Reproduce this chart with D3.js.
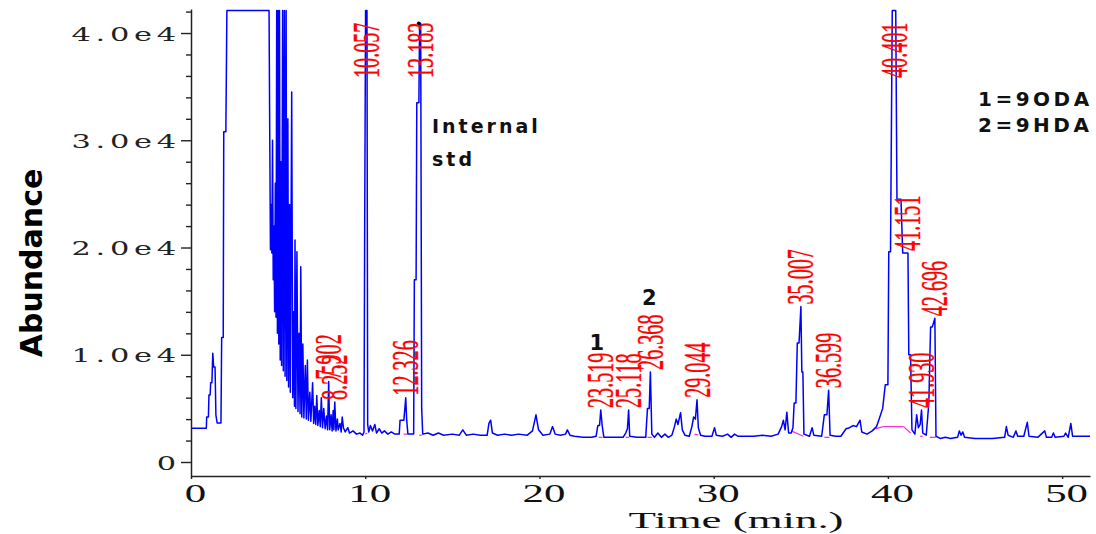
<!DOCTYPE html>
<html><head><meta charset="utf-8">
<script src="https://cdn.jsdelivr.net/npm/d3@7"></script>
<style>
html,body{margin:0;padding:0;background:#fff;}
svg{display:block;}
</style></head>
<body>
<svg id="chart" width="1096" height="534"></svg>
<script>
// Total ion chromatogram: abundance against retention time (min)

// Detector trace between the labelled apexes: [time, abundance]
const tracePoints = [
  [0,3150],[0.88,3150],[0.9,4200],[1.0,4200],[1.03,6250],[1.1,6250],[1.13,7400],[1.2,7400],[1.25,10150],[1.3,8850],[1.38,8850],[1.43,4380],[1.5,3640],[1.72,3640],[1.76,11600],[1.85,11600],[1.88,30800],[2.0,30800],[2.06,42100],[4.48,42100],[4.52,30500],[4.56,19800],[4.60,24000],[4.64,19500],[4.68,30000],[4.72,17000],[4.76,22000],[4.80,14000],[4.84,26000],[4.88,13500],[4.92,42100],[4.96,12000],[5.00,42100],[5.04,11000],[5.08,42100],[5.12,9500],[5.16,28000],[5.20,9000],[5.26,42100],[5.30,8500],[5.36,42100],[5.40,8000],[5.46,42100],[5.50,7600],[5.56,32000],[5.60,7000],[5.66,24000],[5.70,6500],[5.78,34500],[5.84,6000],[5.90,14000],[5.94,5200],[5.97,20700],[6.02,5000],[6.08,19600],[6.14,4700],[6.20,12000],[6.26,4500],[6.30,18200],[6.36,4200],[6.42,11000],[6.48,4100],[6.56,9000],[6.62,4000],[6.68,9500],[6.74,3900],[6.82,6500],[6.88,3800],[6.98,7400],[7.04,3600],[7.10,5200],[7.16,3500],[7.22,6200],[7.28,3400],[7.36,4800],[7.42,3300],[7.48,6000],[7.55,3200],[7.62,5000],[7.70,3100],[7.78,4300],[7.84,3000],[7.96,3000],[8.04,4400],[8.10,2900],[8.16,4800],[8.20,3000],[8.32,2900],[8.40,4000],[8.45,3000],[8.55,3600],[8.62,2800],[8.68,4200],[8.75,3200],[8.85,2800],[9.0,3200],[9.1,2700],[9.3,2900],[9.5,2600],[9.7,2700],[9.85,2500],[9.93,2800],[9.97,22300],[10.02,42100],[10.10,42100],[10.14,3500],[10.20,2800],[10.30,3400],[10.42,2900],[10.55,3500],[10.65,2700],[10.8,3100],[10.95,2700],[11.1,2900],[11.3,2600],[11.5,2800],[11.7,2600],[11.95,2600],[12.0,3900],[12.22,3900],[12.38,3900],[12.45,2600],[12.78,2600],[12.82,17000],[12.92,17000],[12.96,33500],[13.08,33500],[13.12,40900],[13.24,5000],[13.30,2600],
  [13.6,2700],[13.9,2500],[14.2,2700],[14.5,2500],[15.0,2600],[15.4,2500],[15.6,3000],[15.8,2500],[16.2,2600],[16.6,2500],[17.0,2500],[17.1,3600],[17.2,3900],[17.3,2700],[17.6,2500],[18.0,2600],[18.4,2500],[18.8,2600],[19.3,2500],[19.6,2900],[19.8,4400],[19.95,3000],[20.2,2500],[20.6,2600],[20.75,3300],[20.9,2600],[21.2,2500],[21.5,2600],[21.6,3000],[21.75,2500],[22.0,2400],[22.5,2300],[23.0,2300],[23.25,2400],[23.35,3400],[23.45,3400],[23.6,3400],[23.7,2300],[24.2,2300],[24.8,2300],[24.95,2700],[25.05,3100],[25.18,2400],[25.6,2300],[26.1,2300],[26.2,5000],[26.3,5000],[26.45,2600],[26.6,2300],[26.8,2700],[27.0,2300],[27.2,2600],[27.4,2300],[27.6,2500],[27.75,3300],[27.85,4000],[27.95,3500],[28.1,4600],[28.2,3000],[28.35,2500],[28.6,2400],[28.75,3300],[28.85,4200],[28.95,4000],[29.12,3200],[29.25,2500],[29.5,2400],[29.9,2400],[30.05,3200],[30.15,2500],[30.5,2400],[30.8,2600],[31.0,2300],[31.2,2600],[31.4,2400],[31.8,2400],[32.3,2400],[32.8,2500],[33.3,2400],[33.7,2600],[33.9,3300],[34.0,3900],[34.1,3000],[34.2,4650],[34.3,2700],[34.45,2700],[34.55,3200],[34.62,5500],[34.72,5500],[34.8,11100],[34.9,11100],[35.06,8400],[35.12,8400],[35.18,2600],[35.5,2400],[35.65,3200],[35.75,2500],[36.2,2400],[36.35,4400],[36.5,4400],[36.68,2500],[37.0,2400],[37.3,2400],[37.6,3100],[37.8,3200],[38.0,3400],[38.2,3300],[38.4,3900],[38.5,2800],[38.8,2600],[39.1,2900],[39.35,3300],[39.5,4000],[39.7,5000],[39.85,7200],[40.0,7200],[40.05,19600],[40.15,19600],[40.25,42100],[40.45,42100],[40.52,24500],[40.75,24500],[40.85,19500],[41.2,10000],[41.3,10000],[41.38,3000],[41.55,2600],[41.65,4400],[41.75,3200],[41.85,3500],[42.0,2700],[42.2,2500],[42.35,5500],[42.45,12600],[42.55,12600],[42.76,2400],[43.0,2200],[43.3,2300],[43.6,2200],[44.0,2300],[44.1,2900],[44.2,2500],[44.3,2800],[44.4,2300],[45.0,2200],[46.0,2200],[46.7,2300],[46.8,3300],[46.9,2500],[47.2,2300],[47.35,2900],[47.45,2400],[47.8,2400],[48.0,3700],[48.1,2400],[48.6,2300],[49.0,2900],[49.1,2300],[49.4,2300],[49.5,2700],[49.6,2300],[50.1,2400],[50.2,2700],[50.35,2300],[50.5,3600],[50.6,2400],[51.0,2400],[51.6,2400]
];

// Integrated peaks: retention time labels and apex abundance
const peakLabels  = ["7.902","8.252","10.057","12.326","13.183","23.519","25.118","26.368","29.044","35.007","36.599","40.401","41.151","41.930","42.696"];
const peakTimes   = [7.902, 8.252, 10.057, 12.326, 13.183, 23.519, 25.118, 26.368, 29.044, 35.007, 36.599, 40.401, 41.151, 41.930, 42.696];
const peakHeights = [7500, 5600, 42100, 6000, 40900, 4850, 4850, 8400, 5800, 14500, 6700, 42100, 19500, 4850, 13400];

// Integration baselines drawn under the peaks: [t0, v0, t1, v1]
const integrationLines = [
  [10.00,2600,10.12,2700],[12.20,2600,12.40,2600],[13.10,2500,13.25,2500],
  [23.40,2300,23.62,2300],[24.95,2300,25.15,2300],[26.20,2300,26.45,2300],
  [28.90,2600,29.12,2500],[34.45,2900,35.15,2400],[36.35,2300,36.65,2300],
  [39.30,3100,39.70,3300],[39.70,3300,40.90,3300],[40.90,3300,41.30,2700],
  [41.85,2400,42.00,2400],[42.40,2300,42.75,2300]
];

const yMajorTicks = [0, 10000, 20000, 30000, 40000];
const yTickLabels = ["0", "1.0e4", "2.0e4", "3.0e4", "4.0e4"];
const yMinorTicks = [2000,4000,6000,8000,12000,14000,16000,18000,22000,24000,26000,28000,32000,34000,36000,38000,42000];
const xTicks = [0, 10, 20, 30, 40, 50];
const xTickLabels = ["0", "10", "20", "30", "40", "50"];
const compoundKey = ["1=9ODA", "2=9HDA"];

const svg = d3.select("#chart");
const x = d3.scaleLinear().domain([0, 51.6]).range([191, 1090]);
const y = d3.scaleLinear().domain([-1305, 42240]).range([476, 9]);

// integration baselines
svg.append("g").selectAll("line").data(integrationLines).join("line")
  .attr("x1", d => x(d[0])).attr("y1", d => y(d[1]))
  .attr("x2", d => x(d[2])).attr("y2", d => y(d[3]))
  .attr("stroke", "#ff33cc").attr("stroke-width", 1.3);

// chromatogram trace, apexes merged in from the peak table
const points = tracePoints.concat(peakTimes.map((t, i) => [t, peakHeights[i]]))
  .sort((a, b) => a[0] - b[0]);
svg.append("path").datum(points)
  .attr("fill", "none").attr("stroke", "#0000ff").attr("stroke-width", 1.5)
  .attr("stroke-linejoin", "round")
  .attr("d", d3.line().x(d => x(d[0])).y(d => y(d[1])));

// y axis: minor then major ticks
const yMinor = svg.append("g").attr("transform", "translate(191,0)")
  .call(d3.axisLeft(y).tickValues(yMinorTicks).tickSize(5).tickSizeOuter(0).tickFormat(""));
yMinor.select(".domain").remove();
yMinor.selectAll("line").attr("stroke", "#222").attr("stroke-width", 1.4);

const yAxis = svg.append("g").attr("transform", "translate(191,0)")
  .call(d3.axisLeft(y).tickValues(yMajorTicks).tickSize(10).tickSizeOuter(0)
    .tickFormat((d, i) => yTickLabels[i]));
yAxis.select(".domain").attr("stroke", "#222").attr("stroke-width", 1.5);
yAxis.selectAll("line").attr("stroke", "#222").attr("stroke-width", 1.4);
yAxis.selectAll("text")
  .attr("x", 0).attr("dy", null)
  .attr("transform", "translate(-10,7) scale(1.6,1)")
  .attr("font-family", "'DejaVu Serif', serif").attr("font-size", 19)
  .attr("letter-spacing", 3).attr("fill", "#222");

// x axis
const xAxis = svg.append("g").attr("transform", "translate(0,476)")
  .call(d3.axisBottom(x).tickValues(xTicks).tickSize(3).tickSizeOuter(0)
    .tickFormat((d, i) => xTickLabels[i]));
xAxis.select(".domain").attr("stroke", "#222").attr("stroke-width", 1.5);
xAxis.selectAll("line").attr("stroke", "#222").attr("stroke-width", 1.4);
xAxis.selectAll("text")
  .attr("y", 0).attr("dy", null)
  .attr("transform", "translate(4,26) scale(1.65,1)")
  .attr("font-family", "'Liberation Serif', serif").attr("font-size", 26).attr("fill", "#111");

// axis titles
svg.append("text")
  .attr("transform", "translate(736,528) scale(1.95,1)")
  .attr("text-anchor", "middle")
  .attr("font-family", "'Liberation Serif', serif").attr("font-size", 23).attr("fill", "#111")
  .text("Time (min.)");
svg.append("text")
  .attr("transform", "translate(42,263) rotate(-90)")
  .attr("text-anchor", "middle")
  .attr("font-family", "'DejaVu Sans', sans-serif").attr("font-weight", "bold")
  .attr("font-size", 30).attr("fill", "#000")
  .text("Abundance");

// retention-time labels, rotated, sitting on each apex
svg.append("g").selectAll("text").data(peakLabels).join("text")
  .attr("transform", (d, i) => `translate(${x(peakTimes[i])},${Math.max(y(peakHeights[i]), 80) - 2}) rotate(-90) scale(0.53,1)`)
  .attr("text-anchor", "start").attr("dominant-baseline", "central")
  .attr("font-family", "'Liberation Serif', serif").attr("font-size", 38)
  .attr("fill", "#ff0000").attr("stroke", "#ff0000").attr("stroke-width", 0.4)
  .text(d => d);

// internal standard marker
const isIndex = peakLabels.indexOf("13.183");
svg.append("circle")
  .attr("cx", x(peakTimes[isIndex]) - 2).attr("cy", y(peakHeights[isIndex]))
  .attr("r", 1.8).attr("fill", "#000");
svg.append("text").attr("x", 432).attr("y", 133)
  .attr("font-family", "'DejaVu Sans', sans-serif").attr("font-weight", "bold")
  .attr("font-size", 19).attr("letter-spacing", 3).attr("fill", "#111")
  .text("Internal");
svg.append("text").attr("x", 432).attr("y", 166)
  .attr("font-family", "'DejaVu Sans', sans-serif").attr("font-weight", "bold")
  .attr("font-size", 19).attr("letter-spacing", 3).attr("fill", "#111")
  .text("std");

// compound numbers above peaks 23.519 and 26.368
svg.append("text").attr("x", x(23.519) - 4).attr("y", 350).attr("text-anchor", "middle")
  .attr("font-family", "'DejaVu Sans', sans-serif").attr("font-weight", "bold")
  .attr("font-size", 21).attr("fill", "#111").text("1");
svg.append("text").attr("x", x(26.368) - 1).attr("y", 305).attr("text-anchor", "middle")
  .attr("font-family", "'DejaVu Sans', sans-serif").attr("font-weight", "bold")
  .attr("font-size", 21).attr("fill", "#111").text("2");

// compound key
svg.append("g").selectAll("text").data(compoundKey).join("text")
  .attr("x", 978).attr("y", (d, i) => 106 + i * 26)
  .attr("font-family", "'DejaVu Sans', sans-serif").attr("font-weight", "bold")
  .attr("font-size", 20).attr("letter-spacing", 3.5).attr("fill", "#111")
  .text(d => d);
</script>
</body></html>
